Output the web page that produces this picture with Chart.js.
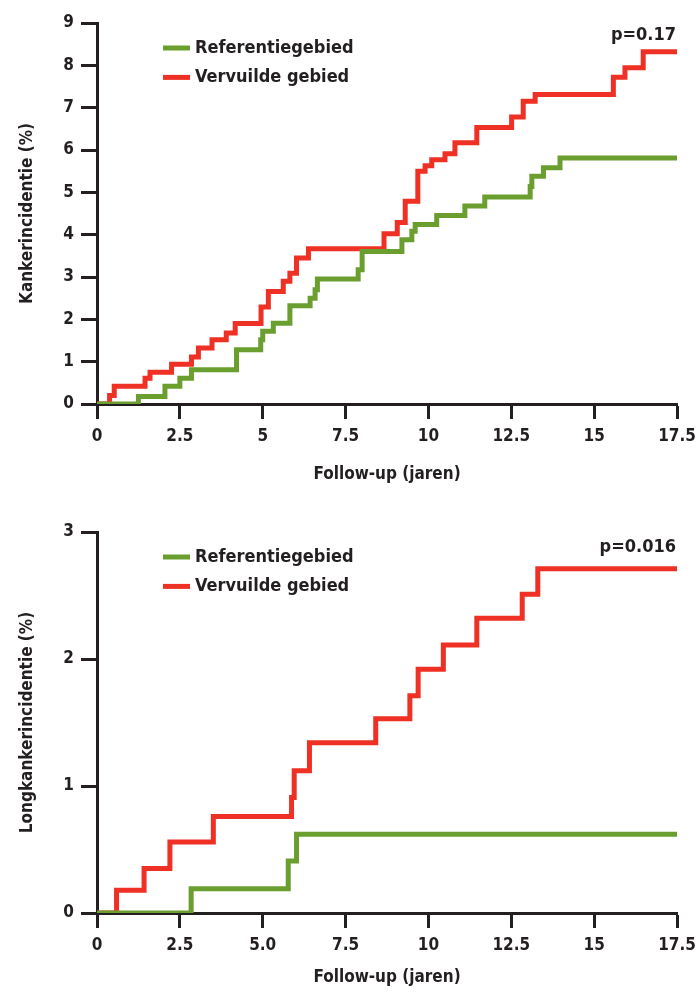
<!DOCTYPE html>
<html lang="nl">
<head>
    <meta charset="UTF-8">
    <title>Kankerincidentie</title>
    <script src="https://cdn.jsdelivr.net/npm/chart.js"></script>
    <style>
        body { margin: 0; background: #fff; }
        #kanker { position: absolute; left: 0; top: 0; }
        #longkanker { position: absolute; left: 0; top: 496px; }
    </style>
</head>
<body>
    <canvas id="kanker" width="696" height="496"></canvas>
    <canvas id="longkanker" width="696" height="497"></canvas>
    <script>
        // tick labels
        const xTicks = [0, 2.5, 5, 7.5, 10, 12.5, 15, 17.5];
        const xLabelsTop = ['0', '2.5', '5', '7.5', '10', '12.5', '15', '17.5'];
        const xLabelsBottom = ['0', '2.5', '5.0', '7.5', '10', '12.5', '15', '17.5'];

        // bovenste grafiek: kankerincidentie
        const kankerRefTijd = [0, 1.25, 2.05, 2.5, 2.85, 4.21, 4.94, 5.0, 5.32, 5.82, 6.43, 6.58, 6.65, 7.88, 8.0, 9.2, 9.5, 9.6, 10.25, 11.1, 11.7, 13.07, 13.12, 13.47, 13.97, 17.5];
        const kankerRef = [0, 0.18, 0.42, 0.61, 0.81, 1.28, 1.52, 1.72, 1.91, 2.32, 2.5, 2.7, 2.95, 3.17, 3.6, 3.88, 4.08, 4.24, 4.45, 4.68, 4.89, 5.14, 5.38, 5.58, 5.81, 5.81];
        const kankerVervTijd = [0, 0.38, 0.52, 1.45, 1.6, 2.25, 2.85, 3.06, 3.47, 3.9, 4.17, 4.95, 5.17, 5.62, 5.82, 6.02, 6.38, 8.66, 9.06, 9.3, 9.68, 9.9, 10.1, 10.5, 10.8, 11.46, 12.51, 12.86, 13.22, 15.58, 15.93, 16.48, 17.5];
        const kankerVerv = [0, 0.2, 0.42, 0.61, 0.75, 0.94, 1.11, 1.32, 1.52, 1.68, 1.9, 2.29, 2.66, 2.9, 3.09, 3.45, 3.67, 4.02, 4.29, 4.79, 5.5, 5.63, 5.77, 5.91, 6.17, 6.53, 6.78, 7.15, 7.31, 7.72, 7.94, 8.32, 8.32];

        // onderste grafiek: longkankerincidentie
        const longRefTijd = [0, 2.84, 5.77, 6.02, 17.5];
        const longRef = [0, 0.19, 0.41, 0.62, 0.62];
        const longVervTijd = [0, 0.59, 1.42, 2.2, 3.51, 5.87, 5.95, 6.41, 8.41, 9.44, 9.69, 10.45, 11.46, 12.83, 13.3, 17.5];
        const longVerv = [0, 0.18, 0.35, 0.56, 0.76, 0.91, 1.12, 1.34, 1.53, 1.71, 1.92, 2.11, 2.32, 2.51, 2.71, 2.71];

        const FONT = "'Liberation Sans Narrow', 'DejaVu Sans Condensed', sans-serif";
        const INK = '#231f20';
        const GROEN = '#6a9f30';
        const ROOD = '#ee3124';

        const toPoints = (t, v) => t.map((x, i) => ({ x: x, y: v[i] }));

        // legend + p-waarde binnen het grafiekvlak
        const overlay = {
            id: 'overlay',
            afterDraw(chart, args, opts) {
                const { ctx, chartArea: a } = chart;
                ctx.save();
                ctx.font = 'bold 18px ' + FONT;
                ctx.textBaseline = 'middle';
                chart.data.datasets.forEach((ds, i) => {
                    const y = a.top + 25 + i * 29.4;
                    ctx.strokeStyle = ds.borderColor;
                    ctx.lineWidth = 5;
                    ctx.beginPath();
                    ctx.moveTo(a.left + 66, y);
                    ctx.lineTo(a.left + 93, y);
                    ctx.stroke();
                    ctx.fillStyle = INK;
                    ctx.textAlign = 'left';
                    ctx.fillText(ds.label, a.left + 98, y);
                });
                ctx.textAlign = 'right';
                ctx.fillText(opts.p, a.right - 1, a.top + opts.pOffset);
                ctx.restore();
            }
        };

        function maakGrafiek(id, o) {
            return new Chart(document.getElementById(id), {
                type: 'line',
                data: {
                    datasets: [
                        { label: 'Referentiegebied', data: toPoints(o.refTijd, o.ref), borderColor: GROEN },
                        { label: 'Vervuilde gebied', data: toPoints(o.vervTijd, o.verv), borderColor: ROOD }
                    ]
                },
                options: {
                    responsive: false,
                    animation: false,
                    datasets: {
                        line: { stepped: true, borderWidth: 5, pointRadius: 0, fill: false, borderJoinStyle: 'miter', borderCapStyle: 'butt' }
                    },
                    layout: { padding: { left: 0, right: 19, top: o.padTop, bottom: 0 } },
                    plugins: {
                        legend: { display: false },
                        tooltip: { enabled: false },
                        overlay: { p: o.p, pOffset: o.pOffset }
                    },
                    scales: {
                        x: {
                            type: 'linear', min: 0, max: 17.5,
                            afterBuildTicks: s => { s.ticks = xTicks.map(v => ({ value: v })); },
                            afterFit: s => { s.height = o.xHeight; s.paddingLeft = 0; s.paddingRight = 0; },
                            ticks: {
                                color: INK, padding: 7, maxRotation: 0, autoSkip: false,
                                font: { family: FONT, size: 17, weight: 'bold' },
                                callback: (v, i) => o.xLabels[i]
                            },
                            grid: { drawOnChartArea: false, drawTicks: true, tickLength: 15, tickWidth: 3, tickColor: INK },
                            border: { display: true, width: 3, color: INK },
                            title: {
                                display: true, text: 'Follow-up (jaren)', color: INK,
                                font: { family: FONT, size: 17, weight: 'bold' },
                                padding: { top: 0, bottom: o.titlePad }
                            }
                        },
                        y: {
                            min: 0, max: o.yMax,
                            afterFit: s => { s.width = 97; },
                            ticks: {
                                stepSize: 1, color: INK, padding: 7,
                                font: { family: FONT, size: 17, weight: 'bold' }
                            },
                            grid: { drawOnChartArea: false, drawTicks: true, tickLength: 16, tickWidth: 3, tickColor: INK },
                            border: { display: true, width: 3, color: INK },
                            title: {
                                display: true, text: o.yTitle, color: INK,
                                font: { family: FONT, size: 17, weight: 'bold' },
                                padding: { top: 17, bottom: 0 }
                            }
                        }
                    }
                },
                plugins: [overlay]
            });
        }

        maakGrafiek('kanker', {
            refTijd: kankerRefTijd, ref: kankerRef, vervTijd: kankerVervTijd, verv: kankerVerv,
            yMax: 9, yTitle: 'Kankerincidentie (%)', xLabels: xLabelsTop,
            p: 'p=0.17', pOffset: 12, padTop: 23, xHeight: 92, titlePad: 11
        });

        maakGrafiek('longkanker', {
            refTijd: longRefTijd, ref: longRef, vervTijd: longVervTijd, verv: longVerv,
            yMax: 3, yTitle: 'Longkankerincidentie (%)', xLabels: xLabelsBottom,
            p: 'p=0.016', pOffset: 15, padTop: 36, xHeight: 80, titlePad: 5
        });
    </script>
</body>
</html>
